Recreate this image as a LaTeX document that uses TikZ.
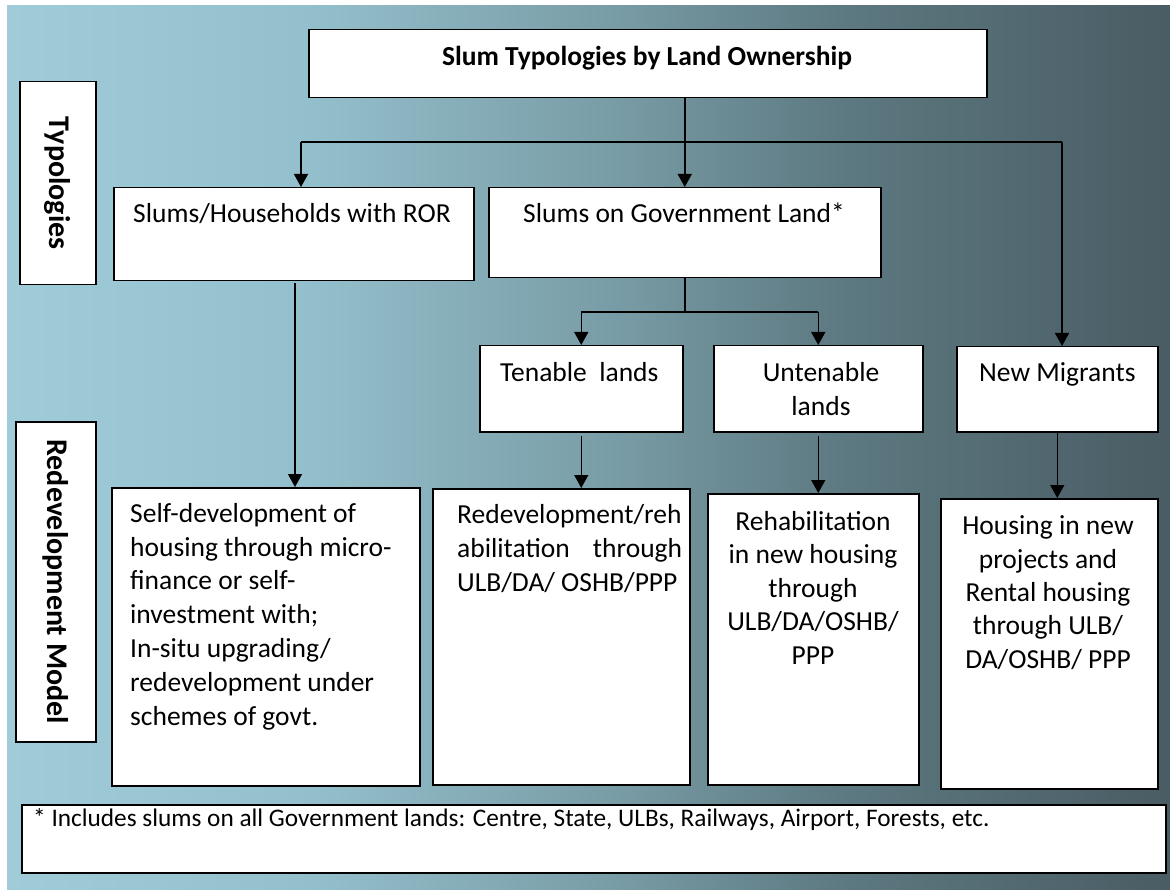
\documentclass[tikz,border=0pt]{standalone}
\usepackage{fontspec}
\setmainfont{Carlito}
\usetikzlibrary{arrows.meta}
\definecolor{bgA}{RGB}{160,203,216}
\definecolor{bgB}{RGB}{148,192,205}
\definecolor{bgC}{RGB}{122,158,168}
\definecolor{bgD}{RGB}{92,120,128}
\definecolor{bgE}{RGB}{74,92,100}
\pgfdeclarehorizontalshading{bgshade}{100bp}{color(0bp)=(bgA); color(25bp)=(bgA); color(37.6bp)=(bgB); color(50.5bp)=(bgC); color(61.2bp)=(bgD); color(75bp)=(bgE); color(100bp)=(bgE)}
\tikzset{
  box/.style={draw=black, line width=1.5pt, fill=white, inner sep=0pt, anchor=north west},
  txt/.style={inner sep=0pt, font=\fontsize{27.5}{33.5}\selectfont},
  btxt/.style={inner sep=0pt, font=\fontsize{30}{36}\selectfont\bfseries},
  arr/.style={line width=1.5pt, -{Triangle[width=14pt,length=13pt]}},
  ln/.style={line width=1.5pt}
}
\begin{document}
\begin{tikzpicture}[x=1pt,y=-1pt]
\useasboundingbox (0,0) rectangle (1170,890);
\fill[white] (0,0) rectangle (1170,890);
\shade[shading=bgshade] (7,6) rectangle (1170,890);

% boxes
\node[box, minimum width=678pt, minimum height=68pt] (title) at (308,29) {};
\node[box, minimum width=76pt, minimum height=203pt] (typ) at (19,81) {};
\node[box, minimum width=80pt, minimum height=320pt] (red) at (15,421) {};
\node[box, minimum width=360pt, minimum height=93pt] (ror) at (113,187) {};
\node[box, minimum width=392pt, minimum height=90pt] (gov) at (488,187) {};
\node[box, minimum width=203pt, minimum height=86pt] (ten) at (479,345) {};
\node[box, minimum width=209pt, minimum height=86pt] (unt) at (713,345) {};
\node[box, minimum width=201pt, minimum height=85pt] (nm) at (956,346) {};
\node[box, minimum width=308pt, minimum height=298pt] (self) at (111,487) {};
\node[box, minimum width=257pt, minimum height=296pt] (redev) at (432,488) {};
\node[box, minimum width=211pt, minimum height=291pt] (rehab) at (707,493) {};
\node[box, minimum width=217pt, minimum height=290pt] (hous) at (940,498) {};
\node[box, minimum width=1144pt, minimum height=68pt] (foot) at (21,804) {};

% texts (multi-line nodes: base anchor = last line baseline)
\node[inner sep=0pt, font=\fontsize{27.5}{33.5}\selectfont\bfseries, anchor=base] (titleT) at (647,66) {Slum Typologies by Land Ownership};
\node[btxt, rotate=-90] (typT) at (typ.center) {Typologies};
\node[btxt, rotate=-90] (redT) at (red.center) {Redevelopment Model};
\node[txt, anchor=base west] (rorT) at (133,223) {Slums/Households with ROR};
\node[txt, anchor=base west] (govT) at (523,223) {Slums on Government Land*};
\node[txt, anchor=base west] (tenT) at (500,382) {Tenable\ \ lands};
\node[txt, anchor=base, align=center, font=\fontsize{27.5}{34}\selectfont] (untT) at (821,416) {Untenable\\lands};
\node[txt, anchor=base west] (nmT) at (979,382) {New Migrants};
\node[txt, anchor=base west, align=left, font=\fontsize{27.5}{33.8}\selectfont] (selfT) at (130,725) {Self-development of\\housing through micro-\\finance or self-\\investment with;\\In-situ upgrading/\\redevelopment under\\schemes of govt.};
\node[txt, anchor=base west, align=left, font=\fontsize{27.5}{34}\selectfont] (redevT) at (457,591) {\hbox to 225pt{Redevelopment/reh\hfill}\\\hbox to 225pt{abilitation\hfill through}\\ULB/DA/ OSHB/PPP};
\node[txt, anchor=base, align=center, font=\fontsize{27.5}{33.5}\selectfont] (rehabT) at (813,664) {Rehabilitation\\in new housing\\through\\ULB/DA/OSHB/\\PPP};
\node[txt, anchor=base, align=center, font=\fontsize{27.5}{33.3}\selectfont] (housT) at (1048,668) {Housing in new\\projects and\\Rental housing\\through ULB/\\DA/OSHB/ PPP};
\node[inner sep=0pt, font=\fontsize{25.3}{30}\selectfont, anchor=base west] (footT) at (33,826) {* Includes slums on all Government lands: Centre, State, ULBs, Railways, Airport, Forests, etc.};

% connectors
\coordinate (busL) at (301,142);
\coordinate (busR) at (1062,142);
\coordinate (splitY) at (0,312);
\coordinate (split) at (gov.south |- splitY);
\coordinate (splitL) at (ten.north |- splitY);
\coordinate (splitR) at (unt.north |- splitY);
\coordinate (rorB) at (295,283);
\draw[arr] (title.south -| gov.north) -- (gov.north);
\draw[ln] (busL) -- (busR);
\draw[arr] (busL) -- (busL |- ror.north);
\draw[arr] (busR) -- (busR |- nm.north);
\draw[ln] (gov.south) -- (split);
\draw[ln] (splitL) -- (splitR);
\draw[arr] (splitL) -- (ten.north);
\draw[arr] (splitR) -- (unt.north);
\draw[arr] (rorB) -- (rorB |- self.north);
\draw[arr] ([yshift=-3pt]ten.south) -- (ten.south |- redev.north);
\draw[arr] ([yshift=-3pt]unt.south) -- (unt.south |- rehab.north);
\draw[arr] (nm.south) -- (nm.south |- hous.north);
\end{tikzpicture}
\end{document}
